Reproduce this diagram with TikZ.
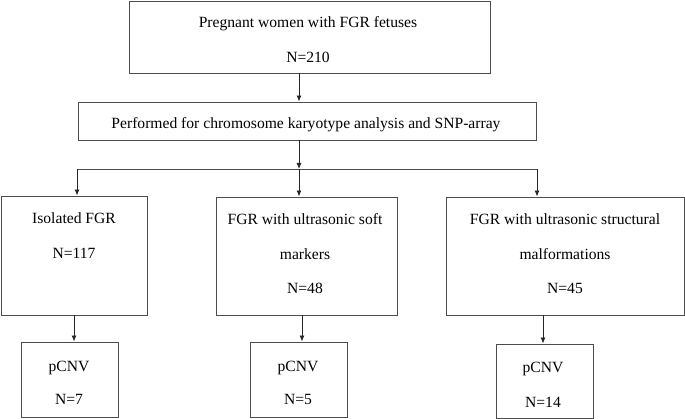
\documentclass[tikz,border=0pt]{standalone}
\usepackage{fontspec}
\setmainfont{Liberation Serif}
\usetikzlibrary{arrows.meta}
\begin{document}
\begin{tikzpicture}[x=1pt,y=-1pt,
 box/.style={draw=black!70, line width=0.9pt, inner sep=0pt},
 txt/.style={anchor=base, inner sep=0pt, font=\fontsize{15.6}{18}\selectfont},
 arr/.style={draw=black!85, line width=0.9pt, -{Latex[length=6pt,width=5pt]}},
 ln/.style={draw=black!70, line width=0.9pt}]
\useasboundingbox (0,0) rectangle (685,419);
% boxes
\node[box, minimum width=361pt, minimum height=72pt] (top) at (309.5,37) {};
\node[box, minimum width=458pt, minimum height=38pt] (perf) at (307,121) {};
\node[box, minimum width=146pt, minimum height=119pt] (iso) at (74,255.5) {};
\node[box, minimum width=181pt, minimum height=118pt] (soft) at (306.5,256) {};
\node[box, minimum width=238pt, minimum height=118pt] (struc) at (565,256) {};
\node[box, minimum width=97pt, minimum height=75pt] (p1) at (69.5,379.5) {};
\node[box, minimum width=97pt, minimum height=75pt] (p2) at (298.5,379.5) {};
\node[box, minimum width=97pt, minimum height=74pt] (p3) at (544.5,381) {};
% texts
\node[txt] (t1a) at (308,28) {Pregnant women with FGR fetuses};
\node[txt] (t1b) at (308,63) {N=210};
\node[txt] (t2) at (306,129) {Performed for chromosome karyotype analysis and SNP-array};
\node[txt] (t3a) at (74,224) {Isolated FGR};
\node[txt] (t3b) at (74,259) {N=117};
\node[txt] (t4a) at (305,225) {FGR with ultrasonic soft};
\node[txt] (t4b) at (305,260) {markers};
\node[txt] (t4c) at (305,294) {N=48};
\node[txt] (t5a) at (565,225) {FGR with ultrasonic structural};
\node[txt] (t5b) at (565,260) {malformations};
\node[txt] (t5c) at (565,294) {N=45};
\node[txt] (t6a) at (69,371) {pCNV};
\node[txt] (t6b) at (69,404) {N=7};
\node[txt] (t7a) at (298,371) {pCNV};
\node[txt] (t7b) at (298,404) {N=5};
\node[txt] (t8a) at (543,373) {pCNV};
\node[txt] (t8b) at (543,407) {N=14};
% connector points
\coordinate (xa) at (299,0);
\coordinate (hl) at (77,169);
\coordinate (hm) at (299,169);
\coordinate (hr) at (537,169);
\coordinate (d1) at (74,0);
\coordinate (d2) at (302,0);
\coordinate (d3) at (543,0);
% connectors
\draw[arr] (top.south -| xa) -- (perf.north -| xa);
\draw[arr] (perf.south -| xa) -- (hm);
\draw[ln] (hl) -- (hr);
\draw[arr] (hl) -- (iso.north -| hl);
\draw[arr] (hm) -- (soft.north -| hm);
\draw[arr] (hr) -- (struc.north -| hr);
\draw[arr] (iso.south -| d1) -- (p1.north -| d1);
\draw[arr] (soft.south -| d2) -- (p2.north -| d2);
\draw[arr] (struc.south -| d3) -- (p3.north -| d3);
\end{tikzpicture}
\end{document}
